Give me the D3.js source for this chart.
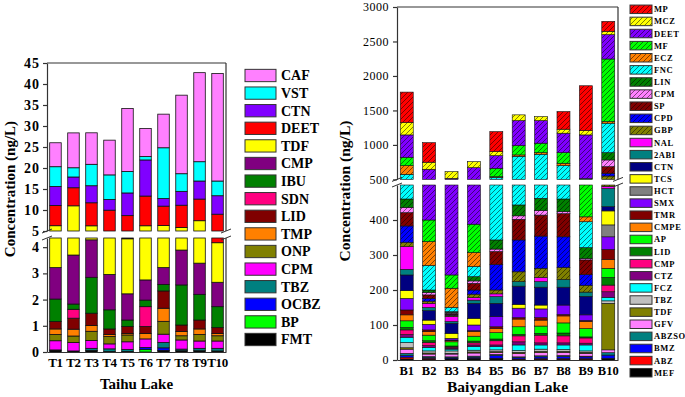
<!DOCTYPE html>
<html>
<head>
<meta charset="utf-8">
<script src="https://cdn.jsdelivr.net/npm/d3@7"></script>
<style>
  body { margin: 0; background: #fff; }
  text { font-family: "Liberation Serif", "Times New Roman", serif; }
</style>
</head>
<body>
<svg id="chart" width="685" height="397"></svg>
<script>
// ---------- Taihu Lake (ng/L), compounds listed bottom -> top of stack ----------
const taihuSites = ["T1", "T2", "T3", "T4", "T5", "T6", "T7", "T8", "T9", "T10"];
const taihuCompounds = ["FMT", "BP", "OCBZ", "TBZ", "CPM", "ONP", "TMP", "LID", "SDN", "IBU", "CMP", "TDF", "DEET", "CTN", "VST", "CAF"];
const taihuColors = ["#000000", "#00ff00", "#0000ff", "#008080", "#ff00ff", "#808000", "#ff8000", "#800000",
                     "#ff0080", "#008000", "#800080", "#ffff00", "#ff0000", "#8000ff", "#00ffff", "#ff80ff"];
const T1  = [0.05, 0, 0.03, 0, 0.35, 0.24, 0.21, 0.28, 0, 0.86, 1.2, 3.04, 4.8, 4.55, 4.7, 5.7];
const T2  = [0.04, 0, 0, 0, 0.32, 0.25, 0.26, 0.42, 0.34, 0.2, 1.87, 7.3, 4.3, 2.56, 2.2, 8.3];
const T3  = [0.06, 0, 0, 0.08, 0.3, 0.35, 0.22, 0.47, 0, 1.37, 1.43, 1.96, 5.48, 4.06, 5.1, 7.5];
const T4  = [0.02, 0, 0, 0.1, 0.19, 0.28, 0.08, 0.21, 0, 0.73, 1.35, 2.0, 5.0, 2.55, 5.85, 8.27];
const T5  = [0.02, 0, 0, 0.08, 0.29, 0.26, 0.06, 0.26, 0, 0.25, 1.0, 2.1, 4.34, 5.4, 5.1, 15.0];
const T6  = [0, 0.1, 0.07, 0, 0.33, 0, 0.21, 0.26, 0.76, 0.25, 0.77, 3.5, 7.07, 8.6, 0.8, 6.7];
const T7  = [0.06, 0, 0.1, 0.2, 0.32, 0.49, 0.5, 0.66, 0, 0.25, 0.64, 3.1, 4.6, 1.8, 12.1, 8.0];
const T8  = [0.05, 0, 0, 0.06, 0.35, 0.16, 0.16, 0.25, 0, 1.53, 1.33, 1.95, 5.3, 3.3, 4.2, 18.7];
const T9  = [0.05, 0, 0, 0.09, 0.28, 0.25, 0.21, 0.34, 0, 0.98, 1.19, 4.06, 5.15, 4.3, 4.6, 21.2];
const T10 = [0.04, 0, 0, 0.1, 0.28, 0.2, 0.09, 0.22, 0, 0.8, 0.93, 1.51, 4.83, 4.4, 3.5, 25.6];
const taihuValues = [T1, T2, T3, T4, T5, T6, T7, T8, T9, T10];
const taihuLowTicks = [0, 1, 2, 3, 4];
const taihuUpTicks = [5, 10, 15, 20, 25, 30, 35, 40, 45];

// ---------- Baiyangdian Lake (ng/L), compounds listed bottom -> top of stack ----------
const bySites = ["B1", "B2", "B3", "B4", "B5", "B6", "B7", "B8", "B9", "B10"];
const byCompounds = ["MEF", "ABZ", "BMZ", "ABZSO", "GFV", "TDF", "TBZ", "FCZ", "CTZ", "CMP", "LID", "AP", "CMPE", "TMR", "SMX", "HCT",
                     "TCS", "CTN", "2ABI", "NAL", "GBP", "CPD", "SP", "CPM", "LIN", "FNC", "ECZ", "MF", "DEET", "MCZ", "MP"];
const byColors = ["#000000", "#ff0000", "#0000ff", "#008080", "#ff80ff", "#808000", "#c0c0c0", "#00ffff", "#800080", "#ff0080", "#008000",
                  "#00ff00", "#ff8000", "#800000", "#8000ff", "#808080", "#ffff00", "#000080", "#008080", "#ff00ff", "#808000", "#0000ff",
                  "#800000", "#ff80ff", "#008000", "#00ffff", "#ff8000", "#00ff00", "#8000ff", "#ffff00", "#ff0000"];
const byHatched = ["GBP", "CPD", "SP", "CPM", "LIN", "FNC", "ECZ", "MF", "DEET", "MCZ", "MP"];
const B1  = [3, 5, 5, 6, 12, 4, 15, 15, 8, 13, 7, 19, 17, 14, 33, 0, 22, 45, 16, 65, 12, 47, 38, 15, 24, 114, 125, 122, 324, 179, 442];
const B2  = [2, 3, 2, 3, 7, 3, 6, 10, 5, 9, 5, 16, 10, 5, 16, 0, 12, 27, 9, 12, 6, 8, 10, 7, 7, 70, 68, 62, 247, 102, 284];
const B3  = [3, 1, 3, 2, 8, 2, 7, 5, 3, 3, 3, 12, 3, 2, 5, 0, 14, 29, 5, 14, 4, 2, 3, 3, 2, 12, 55, 38, 273, 96, 0];
const B4  = [3, 2, 3, 3, 9, 3, 5, 10, 5, 6, 5, 14, 14, 2, 16, 0, 19, 43, 9, 7, 10, 12, 19, 7, 12, 29, 40, 81, 282, 87, 0];
const B5  = [3, 2, 8, 3, 5, 3, 5, 9, 5, 12, 5, 18, 12, 5, 29, 0, 0, 38, 19, 8, 11, 73, 37, 7, 26, 187, 9, 122, 183, 59, 290];
const B6  = [2, 1, 4, 2, 9, 4, 5, 16, 9, 17, 4, 22, 22, 4, 27, 0, 11, 52, 13, 0, 28, 91, 59, 10, 31, 392, 20, 135, 363, 83, 0];
const B7  = [2, 2, 5, 3, 9, 4, 6, 12, 6, 22, 5, 21, 17, 7, 25, 0, 11, 51, 16, 12, 26, 92, 60, 13, 35, 403, 23, 137, 328, 58, 0];
const B8  = [2, 2, 6, 3, 9, 3, 5, 13, 6, 20, 8, 29, 20, 4, 27, 0, 0, 51, 22, 0, 34, 88, 66, 6, 36, 239, 35, 154, 282, 58, 256];
const B9  = [2, 2, 5, 2, 8, 3, 4, 17, 5, 15, 3, 24, 20, 3, 16, 0, 0, 53, 12, 0, 19, 31, 42, 4, 31, 74, 14, 101, 635, 63, 650];
const B10 = [5, 0, 9, 7, 8, 133, 7, 10, 16, 19, 22, 26, 25, 29, 36, 34, 40, 12, 52, 6, 53, 40, 96, 97, 106, 427, 24, 907, 353, 48, 145];
const byValues = [B1, B2, B3, B4, B5, B6, B7, B8, B9, B10];
const byLowTicks = [0, 100, 200, 300, 400];
const byUpTicks = [500, 1000, 1500, 2000, 2500, 3000];

const svg = d3.select("#chart");
const defs = svg.append("defs");
let patternCount = 0;

function hatchFill(color) {
    const id = "hatch" + (patternCount++);
    const p = defs.append("pattern")
        .attr("id", id)
        .attr("patternUnits", "userSpaceOnUse")
        .attr("width", 5)
        .attr("height", 5);
    p.append("rect").attr("width", 5).attr("height", 5).attr("fill", color);
    p.append("path")
        .attr("d", "M-1,1 l2,-2 M0,5 l5,-5 M4,6 l2,-2")
        .attr("stroke", "#000")
        .attr("stroke-width", 0.5);
    return `url(#${id})`;
}

function drawPanel(o) {
    const g = svg.append("g");
    const x = d3.scaleBand().domain(o.sites).range(o.xRange).paddingInner(o.padIn).paddingOuter(o.padOut);
    const yLow = d3.scaleLinear().domain(o.lowDomain).range(o.lowRange);
    const yUp = d3.scaleLinear().domain(o.upDomain).range(o.upRange);

    const rows = o.sites.map((s, i) => {
        const r = { site: s };
        o.compounds.forEach((c, j) => r[c] = o.values[i][j]);
        return r;
    });
    const series = d3.stack().keys(o.compounds)(rows);

    const drawSeg = (scale, a, b, site, fill) => {
        g.append("rect")
            .attr("x", x(site))
            .attr("width", x.bandwidth())
            .attr("y", scale(b))
            .attr("height", scale(a) - scale(b))
            .attr("fill", fill)
            .attr("stroke", "#111")
            .attr("stroke-width", o.segStroke);
    };

    series.forEach((layer, k) => {
        const fill = o.fills[k];
        layer.forEach(d => {
            const [v0, v1] = d;
            if (v1 - v0 <= 0) return;
            if (v0 < o.lowDomain[1]) drawSeg(yLow, v0, Math.min(v1, o.lowDomain[1]), d.data.site, fill);
            if (v1 > o.upDomain[0]) drawSeg(yUp, Math.max(v0, o.upDomain[0]), v1, d.data.site, fill);
        });
    });

    const axisColor = "#333";
    const [x0, x1] = o.xRange;

    // y axes (two segments)
    const styleAxis = sel => {
        sel.select(".domain").attr("stroke", axisColor).attr("stroke-width", 1.2);
        sel.selectAll(".tick line").attr("stroke", axisColor).attr("stroke-width", 1.2);
        sel.selectAll(".tick text")
            .attr("fill", "#000")
            .style("font-family", '"Liberation Serif", serif')
            .style("font-size", o.tickFont + "px")
            .style("font-weight", o.tickWeight)
            .style("letter-spacing", o.tickSpacing + "px");
    };
    const fmt = d3.format("d");
    g.append("g").attr("transform", `translate(${x0},0)`)
        .call(d3.axisLeft(yLow).tickValues(o.lowTicks).tickFormat(fmt).tickSize(4).tickSizeOuter(0).tickPadding(o.tickPad))
        .call(styleAxis);
    g.append("g").attr("transform", `translate(${x0},0)`)
        .call(d3.axisLeft(yUp).tickValues(o.upTicks).tickFormat(fmt).tickSize(4).tickSizeOuter(0).tickPadding(o.tickPad))
        .call(styleAxis);

    // frame: top + right (two segments)
    g.append("line").attr("x1", x0).attr("x2", x1).attr("y1", o.upRange[1]).attr("y2", o.upRange[1])
        .attr("stroke", axisColor).attr("stroke-width", 1.2);
    g.append("line").attr("x1", x1).attr("x2", x1).attr("y1", o.upRange[1]).attr("y2", o.upRange[0])
        .attr("stroke", axisColor).attr("stroke-width", 1.2);
    g.append("line").attr("x1", x1).attr("x2", x1).attr("y1", o.lowRange[1]).attr("y2", o.lowRange[0])
        .attr("stroke", axisColor).attr("stroke-width", 1.2);

    // break marks
    [x0, x1].forEach(bx => {
        [o.upRange[0], o.lowRange[1]].forEach(by => {
            g.append("line")
                .attr("x1", bx - 5).attr("y1", by + 2)
                .attr("x2", bx + 5).attr("y2", by - 2)
                .attr("stroke", axisColor).attr("stroke-width", 1);
        });
    });

    // x axis
    const xa = g.append("g").attr("transform", `translate(0,${o.lowRange[0]})`)
        .call(d3.axisBottom(x).tickSize(0).tickSizeOuter(0).tickPadding(o.xPad));
    xa.select(".domain").attr("stroke", axisColor).attr("stroke-width", 1.2);
    xa.selectAll(".tick text")
        .attr("fill", "#000")
        .style("font-family", '"Liberation Serif", serif')
        .style("font-size", o.xFont + "px")
        .style("font-weight", "bold")
        .style("letter-spacing", o.xSpacing + "px");

    // titles
    g.append("text")
        .attr("x", (x0 + x1) / 2).attr("y", o.xTitleY)
        .attr("text-anchor", "middle")
        .style("font-size", o.titleFont + "px").style("font-weight", "bold")
        .text(o.xTitle);
    g.append("text")
        .attr("transform", `translate(${o.yTitleX},${o.yTitleY}) rotate(-90)`)
        .attr("text-anchor", "middle")
        .style("font-size", o.titleFont + "px").style("font-weight", "bold")
        .text("Concentration (ng/L)");

    // legend (top of stack first)
    const items = o.compounds.map((c, k) => ({ name: c, fill: o.fills[k] })).reverse();
    const ly = d3.scaleLinear().domain([0, items.length - 1]).range(o.legendY);
    items.forEach((it, i) => {
        g.append("rect")
            .attr("x", o.legendX).attr("y", ly(i) - o.legendH / 2)
            .attr("width", o.legendW).attr("height", o.legendH)
            .attr("fill", it.fill).attr("stroke", "#333").attr("stroke-width", 1);
        g.append("text")
            .attr("x", o.legendX + o.legendW + o.legendGap).attr("y", ly(i))
            .attr("dy", "0.35em")
            .style("font-size", o.legendFont + "px").style("font-weight", "bold")
            .style("letter-spacing", o.legendSpacing + "px")
            .text(it.name);
    });
}

drawPanel({
    sites: taihuSites, compounds: taihuCompounds, values: taihuValues,
    fills: taihuColors,
    xRange: [47, 226], padIn: 0.36, padOut: 0.15,
    lowDomain: [0, 4.35], lowRange: [352, 238],
    upDomain: [5, 45], upRange: [231, 63],
    lowTicks: taihuLowTicks, upTicks: taihuUpTicks,
    segStroke: 0.8,
    tickFont: 14, tickWeight: "bold", tickSpacing: 1, tickPad: 3,
    xFont: 13, xSpacing: -0.4, xPad: 6,
    titleFont: 15, xTitle: "Taihu Lake", xTitleY: 389,
    yTitleX: 15, yTitleY: 189,
    legendX: 245, legendY: [75.5, 339.5], legendW: 31, legendH: 12.3, legendGap: 5,
    legendFont: 14, legendSpacing: 0
});

drawPanel({
    sites: bySites, compounds: byCompounds, values: byValues,
    fills: byColors.map((c, k) => byHatched.includes(byCompounds[k]) ? hatchFill(c) : c),
    xRange: [397, 618], padIn: 0.42, padOut: 0.145,
    lowDomain: [0, 500], lowRange: [360, 185],
    upDomain: [500, 3000], upRange: [179.4, 7],
    lowTicks: byLowTicks, upTicks: byUpTicks,
    segStroke: 0.6,
    tickFont: 12, tickWeight: "normal", tickSpacing: 0.5, tickPad: 4,
    xFont: 12.5, xSpacing: 0, xPad: 6,
    titleFont: 15.5, xTitle: "Baiyangdian Lake", xTitleY: 392,
    yTitleX: 350, yTitleY: 191,
    legendX: 630, legendY: [9.3, 372.7], legendW: 22, legendH: 8.5, legendGap: 2,
    legendFont: 8.5, legendSpacing: 0.6
});
</script>
</body>
</html>
